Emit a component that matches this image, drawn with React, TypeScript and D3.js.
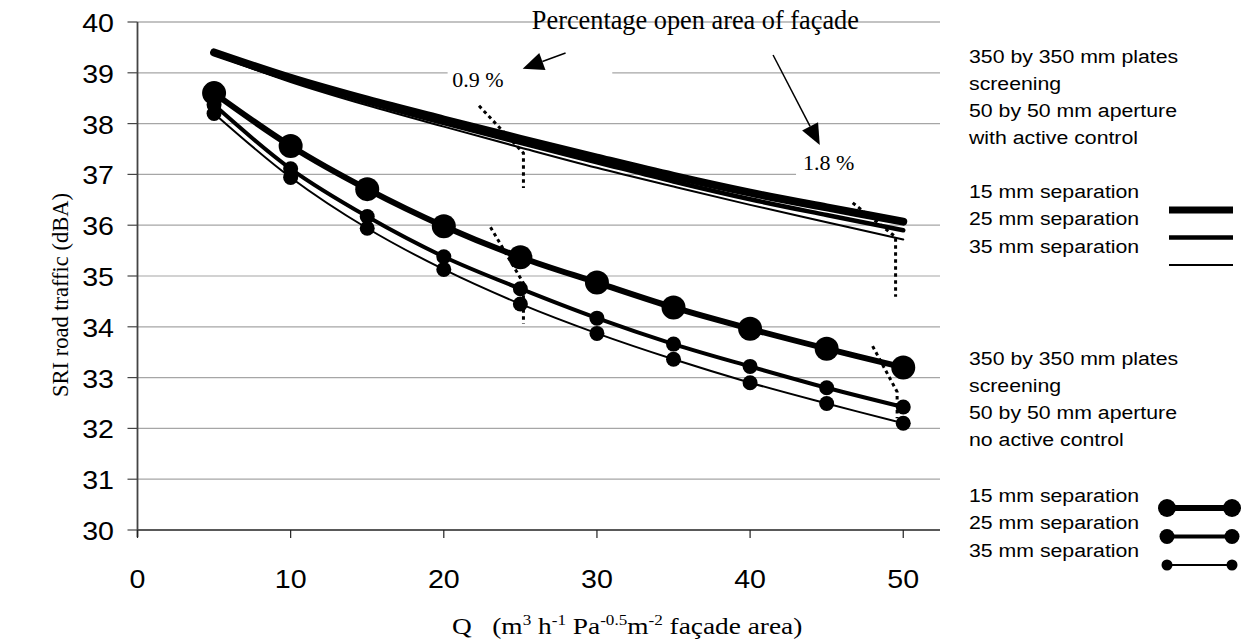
import * as d3 from "d3";

// flow coefficient Q (m3 h-1 Pa-0.5 m-2 facade area)
const qValues = [5, 10, 15, 20, 25, 30, 35, 40, 45, 50];

// with active control (plain lines)
const active15 = [39.4, 38.9, 38.47, 38.08, 37.7, 37.33, 36.97, 36.64, 36.35, 36.07];
const active25 = [39.38, 38.86, 38.42, 38.01, 37.62, 37.24, 36.86, 36.51, 36.2, 35.9];
const active35 = [39.36, 38.82, 38.36, 37.94, 37.53, 37.13, 36.76, 36.4, 36.06, 35.72];

// no active control (lines with dots)
const passive15 = [38.6, 37.56, 36.71, 35.98, 35.37, 34.87, 34.38, 33.96, 33.57, 33.2];
const passive25 = [38.37, 37.11, 36.17, 35.38, 34.75, 34.17, 33.66, 33.22, 32.8, 32.42];
const passive35 = [38.2, 36.94, 35.94, 35.13, 34.45, 33.87, 33.36, 32.9, 32.49, 32.1];

// dotted lines of equal open area [Q, SRI]
const open09Upper = [[22.3, 38.35], [25.2, 37.42], [25.2, 36.73]];
const open09Lower = [[23.05, 35.96], [25.2, 34.86], [25.2, 34.06]];
const open18Upper = [[46.7, 36.44], [49.5, 35.77], [49.5, 34.59]];
const open18Lower = [[48.0, 33.62], [49.6, 32.72], [49.6, 32.2]];

const yTicks = [30, 31, 32, 33, 34, 35, 36, 37, 38, 39, 40];
const xTicks = [0, 10, 20, 30, 40, 50];

const legendHead = ["350 by 350 mm plates", "screening", "50 by 50 mm aperture"];
const separations = ["15 mm separation", "25 mm separation", "35 mm separation"];

const sans = "Liberation Sans, Arial, sans-serif";
const serif = "Liberation Serif, Times New Roman, serif";

const W = 1241;
const H = 643;

const x = d3.scaleLinear().domain([0, 52.4]).range([137.5, 940]);
const y = d3.scaleLinear().domain([30, 40]).range([530, 22]);

const smooth = d3
  .line<number>()
  .x((d, i) => x(qValues[i]))
  .y((d) => y(d))
  .curve(d3.curveCatmullRom);

const poly = d3
  .line<number[]>()
  .x((d) => x(d[0]))
  .y((d) => y(d[1]));

const activeSeries = [
  { values: active15, width: 8 },
  { values: active25, width: 4.5 },
  { values: active35, width: 2 },
];

const passiveSeries = [
  { values: passive15, width: 6, r: 12, legendR: 9 },
  { values: passive25, width: 4, r: 7.5, legendR: 7.5 },
  { values: passive35, width: 2, r: 7.5, legendR: 5.5 },
];

// the original is a bit wider than tall, so sans text gets stretched a little
const Wide = ({ x0, y0, sx, anchor, size, children, baseline }: any) => (
  <g transform={`translate(${x0},${y0}) scale(${sx},1)`}>
    <text
      textAnchor={anchor || "start"}
      dominantBaseline={baseline || "auto"}
      fontFamily={sans}
      fontSize={size}
    >
      {children}
    </text>
  </g>
);

const Arrow = ({ from, to }: { from: number[]; to: number[] }) => {
  const x1 = x(from[0]);
  const y1 = y(from[1]);
  const x2 = x(to[0]);
  const y2 = y(to[1]);
  const ang = Math.atan2(y2 - y1, x2 - x1);
  const len = 21;
  const half = 9;
  const bx = x2 - len * Math.cos(ang);
  const by = y2 - len * Math.sin(ang);
  const pts = [
    [x2, y2],
    [bx + half * Math.sin(ang), by - half * Math.cos(ang)],
    [bx - half * Math.sin(ang), by + half * Math.cos(ang)],
  ];
  return (
    <g>
      <line x1={x1} y1={y1} x2={bx} y2={by} stroke="#000" strokeWidth={1.5} />
      <polygon points={pts.map((p) => p.join(",")).join(" ")} fill="#000" />
    </g>
  );
};

export default function App() {
  return (
    <svg
      width={W}
      height={H}
      style={{ position: "absolute", left: 0, top: 0, background: "#fff" }}
    >
      {/* grid */}
      {yTicks.map((t) => (
        <line
          key={"g" + t}
          x1={x(0)}
          x2={x(52.4)}
          y1={y(t)}
          y2={y(t)}
          stroke={t === 30 ? "#222" : t === 40 ? "#888" : "#a6a6a6"}
          strokeWidth={t === 30 ? 1.5 : 1.2}
        />
      ))}

      {/* white boxes behind the annotations */}
      <rect x={x(25.5)} y={y(39.75)} width={x(52.2) - x(25.5)} height={26} fill="#fff" />
      <rect x={x(20.25)} y={y(39.3)} width={x(31.0) - x(20.25)} height={32} fill="#fff" />
      <rect x={x(43.0)} y={y(37.3)} width={x(52.4) - x(43.0)} height={22} fill="#fff" />

      {/* axes */}
      <line x1={x(0)} x2={x(0)} y1={y(40)} y2={y(30) + 7} stroke="#444" strokeWidth={1.8} />
      {yTicks.map((t) => (
        <g key={"y" + t}>
          <line x1={x(0) - 10} x2={x(0)} y1={y(t)} y2={y(t)} stroke="#444" strokeWidth={1.2} />
          <Wide x0={114} y0={y(t) + 1} sx={1.1} anchor="end" size={26} baseline="central">
            {t}
          </Wide>
        </g>
      ))}
      {xTicks.map((t) => (
        <g key={"x" + t}>
          <line x1={x(t)} x2={x(t)} y1={y(30)} y2={y(30) + 8} stroke="#222" strokeWidth={1.2} />
          <Wide x0={x(t)} y0={588} sx={1.1} anchor="middle" size={26}>
            {t}
          </Wide>
        </g>
      ))}

      {/* active control curves */}
      {activeSeries.map((s, i) => (
        <path
          key={"a" + i}
          d={smooth(s.values) || ""}
          fill="none"
          stroke="#000"
          strokeWidth={s.width}
          strokeLinecap="round"
        />
      ))}

      {/* no active control curves */}
      {passiveSeries.map((s, i) => (
        <g key={"p" + i}>
          <path d={smooth(s.values) || ""} fill="none" stroke="#000" strokeWidth={s.width} />
          {s.values.map((v, j) => (
            <circle key={j} cx={x(qValues[j])} cy={y(v)} r={s.r} fill="#000" />
          ))}
        </g>
      ))}

      {/* open area lines */}
      {[open09Upper, open09Lower, open18Upper, open18Lower].map((d, i) => (
        <path
          key={"o" + i}
          d={poly(d) || ""}
          fill="none"
          stroke="#000"
          strokeWidth={3}
          strokeDasharray="3.5 3.5"
        />
      ))}

      {/* annotations */}
      <text x={x(25.75)} y={y(39.86)} fontFamily={serif} fontSize={26.3}>
        Percentage open area of façade
      </text>
      <text x={x(20.55)} y={y(38.72)} fontFamily={serif} fontSize={22}>
        0.9 %
      </text>
      <text x={x(43.45)} y={y(37.09)} fontFamily={serif} fontSize={22}>
        1.8 %
      </text>
      <Arrow from={[27.95, 39.39]} to={[25.15, 39.08]} />
      <Arrow from={[41.5, 39.35]} to={[44.55, 37.58]} />

      {/* axis titles */}
      <text
        transform={`translate(68,295) rotate(-90)`}
        textAnchor="middle"
        fontFamily={serif}
        fontSize={22.5}
      >
        SRI road traffic (dBA)
      </text>
      <g transform="translate(452,634) scale(1.14,1)">
        <text fontFamily={serif} fontSize={24} style={{ whiteSpace: "pre" }}>
          {"Q   (m"}
          <tspan dy={-9} fontSize={15}>3</tspan>
          <tspan dy={9}>{" h"}</tspan>
          <tspan dy={-9} fontSize={15}>-1</tspan>
          <tspan dy={9}>{" Pa"}</tspan>
          <tspan dy={-9} fontSize={15}>-0.5</tspan>
          <tspan dy={9}>m</tspan>
          <tspan dy={-9} fontSize={15}>-2</tspan>
          <tspan dy={9}>{" façade area)"}</tspan>
        </text>
      </g>

      {/* legends */}
      {[
        { top: 63, last: "with active control", sepTop: 198 },
        { top: 365, last: "no active control", sepTop: 502 },
      ].map((blk, bi) => (
        <g key={"l" + bi}>
          {[...legendHead, blk.last].map((t, i) => (
            <Wide key={i} x0={969} y0={blk.top + i * 27} sx={1.12} size={19}>
              {t}
            </Wide>
          ))}
          {separations.map((t, i) => (
            <Wide key={"s" + i} x0={969} y0={blk.sepTop + i * 27.3} sx={1.12} size={19}>
              {t}
            </Wide>
          ))}
        </g>
      ))}
      {activeSeries.map((s, i) => (
        <line
          key={"la" + i}
          x1={1169}
          x2={1233}
          y1={210 + i * 27.5}
          y2={210 + i * 27.5}
          stroke="#000"
          strokeWidth={s.width - (i === 0 ? 1 : 0)}
        />
      ))}
      {passiveSeries.map((s, i) => (
        <g key={"lp" + i}>
          <line
            x1={1167}
            x2={1232}
            y1={508 + i * 28.5}
            y2={508 + i * 28.5}
            stroke="#000"
            strokeWidth={s.width}
          />
          <circle cx={1167} cy={508 + i * 28.5} r={s.legendR} fill="#000" />
          <circle cx={1232} cy={508 + i * 28.5} r={s.legendR} fill="#000" />
        </g>
      ))}
    </svg>
  );
}
